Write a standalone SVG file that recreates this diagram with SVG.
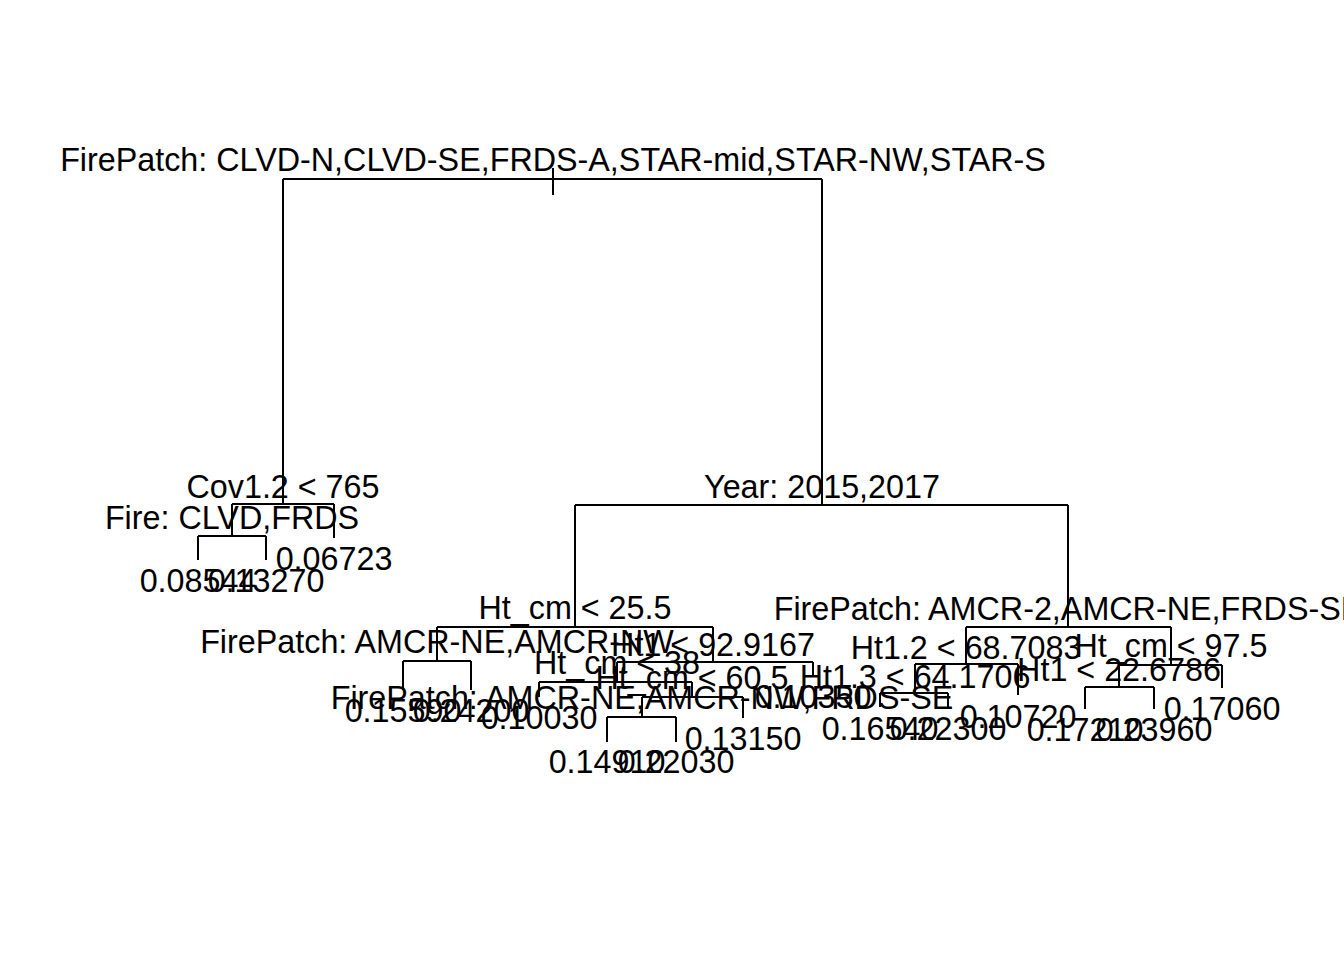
<svg xmlns="http://www.w3.org/2000/svg" width="1344" height="960" viewBox="0 0 1344 960">
<style>
text{font-family:"Liberation Sans",Arial,sans-serif;font-size:32.3px;fill:#000;text-anchor:middle}
.e{stroke:#000;stroke-width:2;fill:none;stroke-linecap:butt}
</style>
<rect width="1344" height="960" fill="#fff"/>
<g id="connectors" class="e">
<path d="M553,168V195"/>
<path d="M283,179H822"/>
<path d="M283,179V504M232,504H334M232,504V536M198,536H266M198,536V560M266,536V560M334,504V538"/>
<path d="M822,179V505M575,505H1068"/>
<path d="M575,505V627M437,627H713M437,627V661M403,661H471M403,661V690M471,661V690"/>
<path d="M713,627V662M617,662H813M617,662V682M539,682H692M539,682V697M692,682V697M642,697H743M642,697V717M607,717H676M607,717V742M676,717V742M743,697V718M813,662V677"/>
<path d="M1068,505V627M966,627H1171M966,627V664M915,664H1018M915,664V693M880,693H948M880,693V707M948,693V707M1018,664V695"/>
<path d="M1171,627V665M1119,665H1222M1119,665V687M1085,687H1154M1085,687V709M1154,687V709M1222,665V688"/>
</g>
<g id="n1"><text x="553" y="171">FirePatch: CLVD-N,CLVD-SE,FRDS-A,STAR-mid,STAR-NW,STAR-S</text></g>
<g id="n2"><text x="283" y="498">Cov1.2 &lt; 765</text></g>
<g id="n4"><text x="232" y="529">Fire: CLVD,FRDS</text></g>
<g id="n8"><text x="198" y="592">0.08544</text></g>
<g id="n9"><text x="266" y="592">0.13270</text></g>
<g id="n5"><text x="334" y="570">0.06723</text></g>
<g id="n3"><text x="822" y="498">Year: 2015,2017</text></g>
<g id="n6"><text x="575" y="619">Ht_cm &lt; 25.5</text></g>
<g id="n12"><text x="437" y="653">FirePatch: AMCR-NE,AMCR-NW</text></g>
<g id="n24"><text x="403" y="722">0.15590</text></g>
<g id="n25"><text x="471" y="722">0.24200</text></g>
<g id="n13"><text x="713" y="656">Ht1 &lt; 92.9167</text></g>
<g id="n26"><text x="617" y="674">Ht_cm &lt; 38</text></g>
<g id="n52"><text x="539" y="729">0.10030</text></g>
<g id="n53"><text x="692" y="689">Ht_cm &lt; 60.5</text></g>
<g id="n106"><text x="642" y="709">FirePatch: AMCR-NE,AMCR-NW,FRDS-SE</text></g>
<g id="n212"><text x="607" y="773">0.14910</text></g>
<g id="n213"><text x="676" y="773">0.22030</text></g>
<g id="n107"><text x="743" y="750">0.13150</text></g>
<g id="n27"><text x="813" y="708">0.10350</text></g>
<g id="n7"><text x="1068" y="620">FirePatch: AMCR-2,AMCR-NE,FRDS-SE</text></g>
<g id="n14"><text x="966" y="659">Ht1.2 &lt; 68.7083</text></g>
<g id="n28"><text x="915" y="688">Ht1.3 &lt; 64.1706</text></g>
<g id="n56"><text x="880" y="740">0.16540</text></g>
<g id="n57"><text x="948" y="740">0.22300</text></g>
<g id="n29"><text x="1018" y="728">0.10720</text></g>
<g id="n15"><text x="1171" y="657">Ht_cm &lt; 97.5</text></g>
<g id="n30"><text x="1119" y="681">Ht1 &lt; 22.6786</text></g>
<g id="n60"><text x="1085" y="741">0.17210</text></g>
<g id="n61"><text x="1154" y="741">0.23960</text></g>
<g id="n31"><text x="1222" y="720">0.17060</text></g>
</svg>
